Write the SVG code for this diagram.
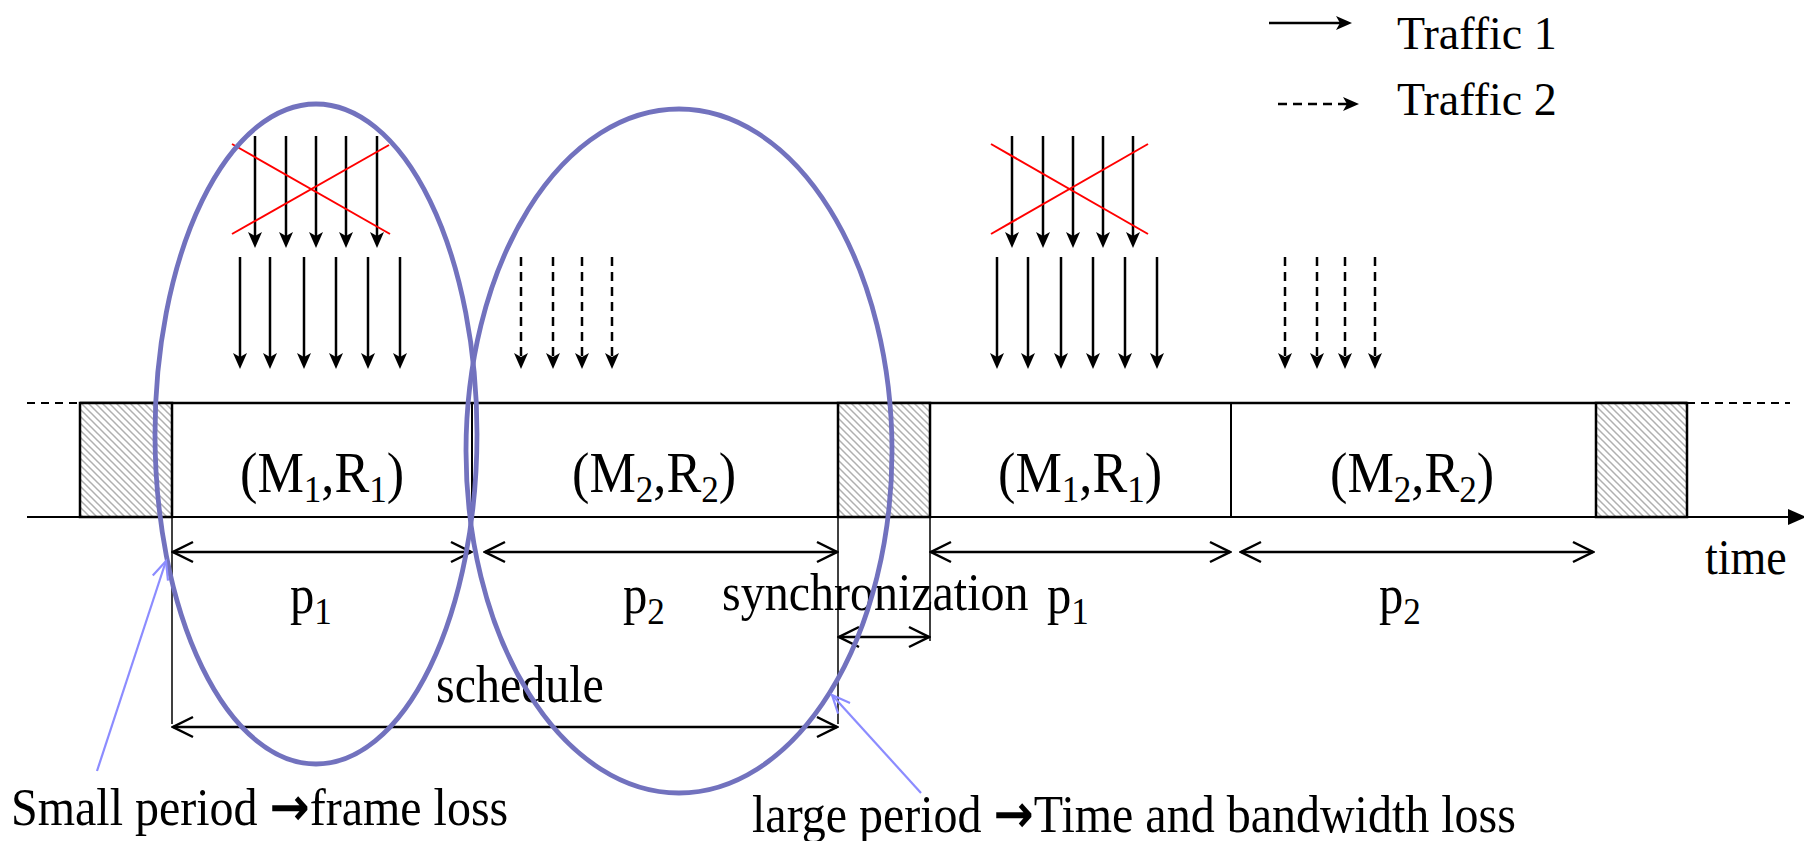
<svg xmlns="http://www.w3.org/2000/svg" width="1804" height="841" viewBox="0 0 1804 841">
<style>
text{font-family:"Liberation Serif","Times New Roman",serif;fill:#000}
.big{font-size:58px}
.pl{font-size:54px}
.mid{font-size:48px}
.leg{font-size:46px}
.sub{font-size:39px}
.arr{font-family:"DejaVu Sans",sans-serif;font-weight:bold;font-size:48px}
.hat{fill:url(#hatch);stroke:#000;stroke-width:2.5}
.sep{stroke:#000;stroke-width:2;fill:none}
.tick{stroke:#000;stroke-width:1.5;fill:none}
.dim{stroke:#000;stroke-width:2.5;fill:none;marker-start:url(#open);marker-end:url(#open)}
.t1{stroke:#000;stroke-width:2.5;fill:none;marker-end:url(#solid)}
.t2{stroke:#000;stroke-width:2.5;fill:none;stroke-dasharray:9 6;marker-end:url(#solid)}
.x{stroke:#ff0000;stroke-width:2;fill:none}
.ell{fill:none;stroke:#7272BE;stroke-width:4.8}
.ptr{stroke:#8C8CFF;stroke-width:2.2;fill:none;marker-end:url(#ptrhead)}
</style>
<defs>
<pattern id="hatch" patternUnits="userSpaceOnUse" width="7" height="7">
<rect width="7" height="7" fill="#fff"/>
<path d="M-2,-2 L9,9 M-2,5 L2,9 M5,-2 L9,2" stroke="#b0b0b0" stroke-width="1.5"/>
</pattern>
<marker id="open" markerUnits="userSpaceOnUse" viewBox="0 0 24 24" markerWidth="24" markerHeight="24" refX="22" refY="12" orient="auto-start-reverse">
<path d="M2,2 L22,12 L2,22" fill="none" stroke="#000" stroke-width="2.5"/>
</marker>
<marker id="solid" markerUnits="userSpaceOnUse" viewBox="0 0 16 14" markerWidth="16" markerHeight="14" refX="8" refY="7" orient="auto">
<path d="M0,0 L16,7 L0,14 L4,7 Z" fill="#000"/>
</marker>
<marker id="ptrhead" markerUnits="userSpaceOnUse" viewBox="0 0 24 22" markerWidth="24" markerHeight="22" refX="21" refY="11" orient="auto">
<path d="M3,3 L21,11 L3,19" fill="none" stroke="#8C8CFF" stroke-width="2.2"/>
</marker>
</defs>
<rect width="1804" height="841" fill="#fff"/>

<g id="timeline">
<line x1="27" y1="403" x2="80" y2="403" stroke="#000" stroke-width="2" stroke-dasharray="8 6"/>
<line x1="1687" y1="403" x2="1790" y2="403" stroke="#000" stroke-width="2" stroke-dasharray="8 6"/>
<line x1="80" y1="403" x2="1687" y2="403" stroke="#000" stroke-width="2.5"/>
<line x1="27" y1="517" x2="1792" y2="517" stroke="#000" stroke-width="2"/>
<polygon points="1788,509 1806,517 1788,525" fill="#000"/>
<text class="leg" transform="translate(1705,574) scale(1,1.08)">time</text>
</g>

<g id="sync-slot-1"><rect class="hat" x="80" y="403" width="92" height="114"/></g>
<g id="slot-m1r1-a">
<line class="sep" x1="472" y1="403" x2="472" y2="517"/>
<text class="big" transform="translate(240,492) scale(0.9,1)">(M<tspan class="sub" dy="10">1</tspan><tspan dy="-10">,R</tspan><tspan class="sub" dy="10">1</tspan><tspan dy="-10">)</tspan></text>
</g>
<g id="slot-m2r2-a">
<text class="big" transform="translate(572,492) scale(0.9,1)">(M<tspan class="sub" dy="10">2</tspan><tspan dy="-10">,R</tspan><tspan class="sub" dy="10">2</tspan><tspan dy="-10">)</tspan></text>
</g>
<g id="sync-slot-2"><rect class="hat" x="838" y="403" width="92" height="114"/></g>
<g id="slot-m1r1-b">
<line class="sep" x1="1231" y1="403" x2="1231" y2="517"/>
<text class="big" transform="translate(998,492) scale(0.9,1)">(M<tspan class="sub" dy="10">1</tspan><tspan dy="-10">,R</tspan><tspan class="sub" dy="10">1</tspan><tspan dy="-10">)</tspan></text>
</g>
<g id="slot-m2r2-b">
<text class="big" transform="translate(1330,492) scale(0.9,1)">(M<tspan class="sub" dy="10">2</tspan><tspan dy="-10">,R</tspan><tspan class="sub" dy="10">2</tspan><tspan dy="-10">)</tspan></text>
</g>
<g id="sync-slot-3"><rect class="hat" x="1596" y="403" width="91" height="114"/></g>

<g id="legend">
<line class="t1" x1="1269" y1="23" x2="1344" y2="23"/>
<text class="leg" x="1397" y="49">Traffic 1</text>
<line class="t2" x1="1278" y1="104" x2="1351" y2="104"/>
<text class="leg" x="1397" y="115">Traffic 2</text>
</g>

<g id="connectors">
<g id="traffic-a">
<line class="t1" x1="255" y1="136" x2="255" y2="240"/>
<line class="t1" x1="286" y1="136" x2="286" y2="240"/>
<line class="t1" x1="316" y1="136" x2="316" y2="240"/>
<line class="t1" x1="346" y1="136" x2="346" y2="240"/>
<line class="t1" x1="377" y1="136" x2="377" y2="240"/>
<line class="x" x1="232" y1="144" x2="390" y2="234"/>
<line class="x" x1="232" y1="234" x2="389" y2="145"/>
<line class="t1" x1="240" y1="257" x2="240" y2="361"/>
<line class="t1" x1="270" y1="257" x2="270" y2="361"/>
<line class="t1" x1="304" y1="257" x2="304" y2="361"/>
<line class="t1" x1="336" y1="257" x2="336" y2="361"/>
<line class="t1" x1="368" y1="257" x2="368" y2="361"/>
<line class="t1" x1="400" y1="257" x2="400" y2="361"/>
<line class="t2" x1="521" y1="257" x2="521" y2="361"/>
<line class="t2" x1="553" y1="257" x2="553" y2="361"/>
<line class="t2" x1="582" y1="257" x2="582" y2="361"/>
<line class="t2" x1="612" y1="257" x2="612" y2="361"/>
</g>
<g id="traffic-b">
<line class="t1" x1="1012" y1="136" x2="1012" y2="240"/>
<line class="t1" x1="1043" y1="136" x2="1043" y2="240"/>
<line class="t1" x1="1073" y1="136" x2="1073" y2="240"/>
<line class="t1" x1="1103" y1="136" x2="1103" y2="240"/>
<line class="t1" x1="1133" y1="136" x2="1133" y2="240"/>
<line class="x" x1="991" y1="144" x2="1148" y2="234"/>
<line class="x" x1="991" y1="234" x2="1148" y2="144"/>
<line class="t1" x1="997" y1="257" x2="997" y2="361"/>
<line class="t1" x1="1028" y1="257" x2="1028" y2="361"/>
<line class="t1" x1="1061" y1="257" x2="1061" y2="361"/>
<line class="t1" x1="1093" y1="257" x2="1093" y2="361"/>
<line class="t1" x1="1125" y1="257" x2="1125" y2="361"/>
<line class="t1" x1="1157" y1="257" x2="1157" y2="361"/>
<line class="t2" x1="1285" y1="257" x2="1285" y2="361"/>
<line class="t2" x1="1317" y1="257" x2="1317" y2="361"/>
<line class="t2" x1="1345" y1="257" x2="1345" y2="361"/>
<line class="t2" x1="1375" y1="257" x2="1375" y2="361"/>
</g>
<g id="dimensions">
<line class="tick" x1="172" y1="517" x2="172" y2="724"/>
<line class="tick" x1="838" y1="517" x2="838" y2="724"/>
<line class="tick" x1="930" y1="517" x2="930" y2="641"/>
<line class="dim" x1="173" y1="552" x2="471" y2="552"/>
<line class="dim" x1="485" y1="552" x2="837" y2="552"/>
<line class="dim" x1="931" y1="552" x2="1230" y2="552"/>
<line class="dim" x1="1241" y1="552" x2="1593" y2="552"/>
<line class="dim" x1="839" y1="637" x2="929" y2="637"/>
<line class="dim" x1="173" y1="727" x2="837" y2="727"/>
</g>
</g>

<g id="dimension-labels">
<text class="pl" transform="translate(290,613) scale(0.9,1)">p<tspan class="sub" dy="11">1</tspan></text>
<text class="pl" transform="translate(623,613) scale(0.9,1)">p<tspan class="sub" dy="11">2</tspan></text>
<text class="pl" transform="translate(1047,613) scale(0.9,1)">p<tspan class="sub" dy="11">1</tspan></text>
<text class="pl" transform="translate(1379,613) scale(0.9,1)">p<tspan class="sub" dy="11">2</tspan></text>
<text class="mid" transform="translate(722,610) scale(1,1.08)">synchronization</text>
<text class="mid" transform="translate(436,702) scale(1,1.08)">schedule</text>
</g>

<g id="ellipse-small"><ellipse class="ell" cx="316" cy="434" rx="161" ry="330"/></g>
<g id="ellipse-large"><ellipse class="ell" cx="679" cy="451" rx="213" ry="342"/></g>

<g id="pointers">
<line class="ptr" x1="97" y1="771" x2="166" y2="561"/>
<line class="ptr" x1="921" y1="793" x2="832" y2="695"/>
</g>

<g id="note-small">
<text class="mid" transform="translate(11,825) scale(1,1.1)">Small period <tspan class="arr">→</tspan>frame loss</text>
</g>
<g id="note-large">
<text class="mid" transform="translate(752,832) scale(1,1.1)">large period <tspan class="arr">→</tspan>Time and bandwidth loss</text>
</g>
</svg>
